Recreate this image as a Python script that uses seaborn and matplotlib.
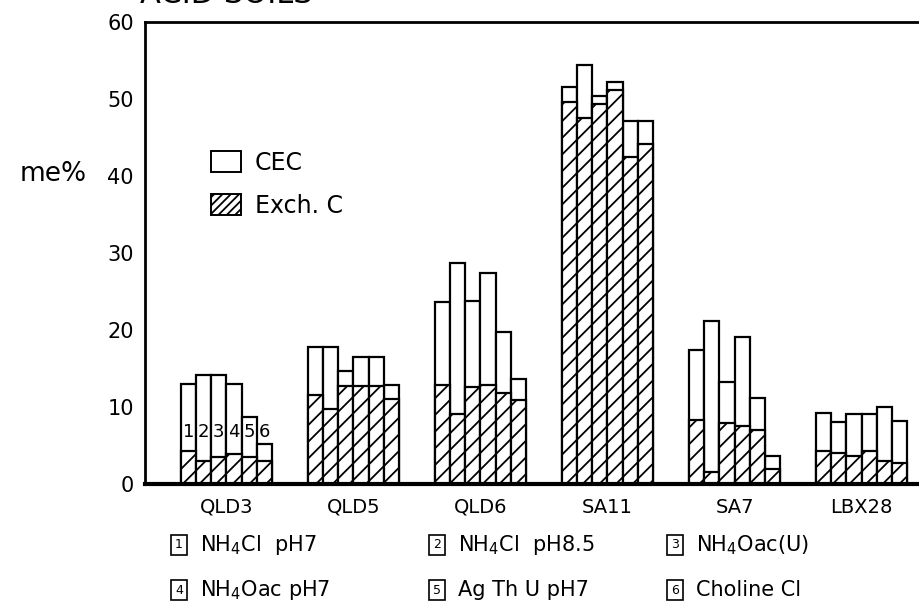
import matplotlib
matplotlib.use("Agg")
import matplotlib.pyplot as plt
from matplotlib.patches import Patch
import numpy as np
import pandas as pd
import seaborn as sns

# Soils and extraction methods
soils = ["QLD3", "QLD5", "QLD6", "SA11", "SA7", "LBX28"]
methods = ["1", "2", "3", "4", "5", "6"]
method_names = [r"NH$_4$Cl  pH7", r"NH$_4$Cl  pH8.5", r"NH$_4$Oac(U)",
                r"NH$_4$Oac pH7", "Ag Th U pH7", "Choline Cl"]

# Cation exchange capacity (me%) per soil, methods 1-6
cec_qld3 = [13.0, 14.2, 14.2, 13.0, 8.7, 5.2]
cec_qld5 = [17.8, 17.8, 14.7, 16.5, 16.5, 12.8]
cec_qld6 = [23.6, 28.7, 23.8, 27.4, 19.7, 13.7]
cec_sa11 = [51.5, 54.4, 50.4, 52.2, 47.2, 47.2]
cec_sa7 = [17.4, 21.2, 13.3, 19.1, 11.2, 3.7]
cec_lbx28 = [9.2, 8.0, 9.1, 9.1, 10.0, 8.2]

# Exchangeable cations (me%) per soil, methods 1-6
exch_qld3 = [4.3, 3.0, 3.5, 3.9, 3.5, 3.0]
exch_qld5 = [11.6, 9.8, 12.7, 12.7, 12.7, 11.1]
exch_qld6 = [12.9, 9.1, 12.6, 12.8, 11.8, 10.9]
exch_sa11 = [49.6, 47.5, 49.4, 51.2, 42.5, 44.2]
exch_sa7 = [8.3, 1.5, 7.9, 7.5, 7.0, 1.9]
exch_lbx28 = [4.3, 4.0, 3.7, 4.3, 3.0, 2.7]

cec = [cec_qld3, cec_qld5, cec_qld6, cec_sa11, cec_sa7, cec_lbx28]
exch = [exch_qld3, exch_qld5, exch_qld6, exch_sa11, exch_sa7, exch_lbx28]

rows = []
for s, cv, ev in zip(soils, cec, exch):
    for m, c, e in zip(methods, cv, ev):
        rows.append({"soil": s, "method": m, "cec": c, "exch": e})
df = pd.DataFrame(rows)

sns.set_style("white")
plt.rcParams["font.family"] = ["DejaVu Sans"]
plt.rcParams["mathtext.default"] = "regular"
plt.rcParams["hatch.linewidth"] = 1.3
plt.rcParams["hatch.color"] = "black"
plt.rcParams["text.color"] = "black"
plt.rcParams["xtick.color"] = "black"
plt.rcParams["ytick.color"] = "black"
plt.rcParams["axes.labelcolor"] = "black"

fig = plt.figure(figsize=(9.2, 6.09), dpi=100)
ax = fig.add_axes([145 / 920, 1 - 484 / 609, 1 - 145 / 920, (484 - 22) / 609])

pal = {m: "white" for m in methods}
common = dict(x="soil", hue="method", order=soils, hue_order=methods,
              palette=pal, edgecolor="black", linewidth=1.6,
              width=0.72, errorbar=None, legend=False, ax=ax)
sns.barplot(data=df, y="cec", **common)
n_first = len(ax.patches)
sns.barplot(data=df, y="exch", **common)
for p in ax.patches[n_first:]:
    p.set_hatch("//")

# Method numbers inside the first group
first_group = sorted(ax.patches[:n_first], key=lambda p: p.get_x())[:6]
for p, m in zip(first_group, methods):
    ax.text(p.get_x() + p.get_width() / 2, 6.8, m, ha="center", va="center",
            fontsize=13, color="black")

ax.set_ylim(0, 60)
ax.set_xlim(-0.64, 5.46)
ax.set_yticks(range(0, 61, 10))
ax.set_yticklabels([str(v) for v in range(0, 61, 10)], fontsize=15)
ax.tick_params(axis="y", direction="in", length=11, width=1.6, pad=8,
               colors="black")
ax.tick_params(axis="x", length=0, labelsize=14, pad=10, colors="black")
ax.set_xlabel("")
ax.set_ylabel("")
for side in ["left", "top"]:
    ax.spines[side].set_linewidth(2)
ax.spines["bottom"].set_linewidth(3)
ax.spines["right"].set_visible(False)
for sp in ax.spines.values():
    sp.set_color("black")

fig.text(20 / 920, 1 - 174 / 609, "me%", fontsize=19, ha="left", va="center")
fig.text(140 / 920, 1 - 3 / 609, "ACID SOILS", fontsize=22, ha="left",
         va="baseline")

handles = [Patch(facecolor="white", edgecolor="black", linewidth=1.4, label="CEC"),
           Patch(facecolor="white", edgecolor="black", linewidth=1.4,
                 hatch="////", label="Exch. C")]
fig.legend(handles=handles, loc="upper left",
           bbox_to_anchor=(211 / 920, 1 - 151 / 609),
           bbox_transform=fig.transFigure, frameon=False, fontsize=17,
           handlelength=1.25, handleheight=1.0, handletextpad=0.6,
           labelspacing=0.8, borderpad=0, borderaxespad=0)

# Key to the extraction methods
col_x = [179, 437, 675]
row_y = [545, 590]
for i, (m, name) in enumerate(zip(methods, method_names)):
    r, c = divmod(i, 3)
    x = col_x[c] / 920
    y = 1 - row_y[r] / 609
    fig.text(x, y, m, fontsize=9, ha="center", va="center",
             bbox=dict(boxstyle="square,pad=0.3", facecolor="white",
                       edgecolor="black", linewidth=1.2))
    fig.text(x + 21 / 920, y, name, fontsize=15, ha="left", va="center")

fig.savefig("out.png", dpi=100)
